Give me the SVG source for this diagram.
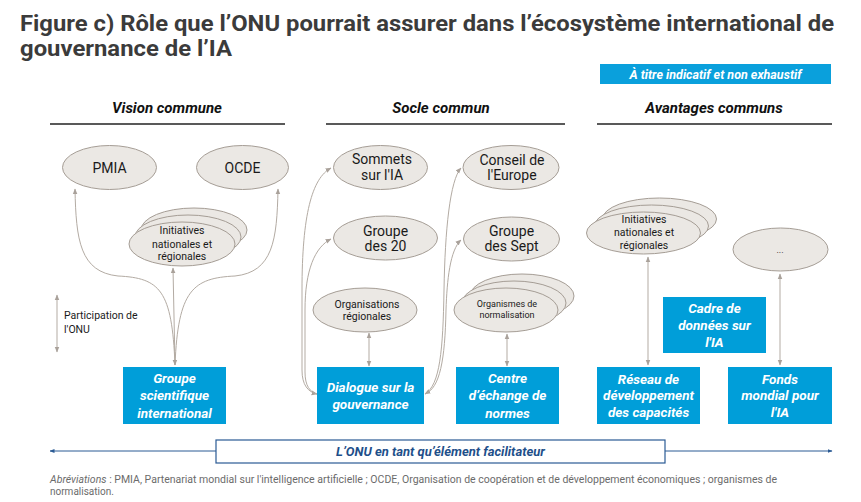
<svg xmlns="http://www.w3.org/2000/svg" width="861" height="502" viewBox="0 0 861 502">
<defs>
<marker id="ah" viewBox="0 0 10 10" refX="9" refY="5" markerWidth="6" markerHeight="6" orient="auto-start-reverse"><path d="M0,1 L10,5 L0,9z" fill="#a9a19a"/></marker>
<marker id="bh" viewBox="0 0 10 10" refX="9" refY="5" markerWidth="5" markerHeight="5" orient="auto-start-reverse"><path d="M0,1 L10,5 L0,9z" fill="#2a5a94"/></marker>
</defs>
<style>
text{font-family:Roboto,"Liberation Sans",sans-serif}
.title{font-size:22px;font-weight:bold;fill:#3b3b3b}
.hdr{font-size:15px;font-weight:bold;font-style:italic;fill:#111;text-anchor:middle}
.el{fill:#ebe8e4;stroke:#a59d95;stroke-width:1}
.t14{font-size:14px;fill:#1a1a1a;text-anchor:middle}
.t10{font-size:10.5px;fill:#1a1a1a;text-anchor:middle}
.t9{font-size:9px;fill:#1a1a1a;text-anchor:middle}
.box{fill:#009ed9}
.bt{font-size:13.5px;font-weight:bold;font-style:italic;fill:#fff;text-anchor:middle}
.con{fill:none;stroke:#b3aba3;stroke-width:1}
.rule{stroke:#222;stroke-width:1.3}
</style>
<g id="title">
<text class="title" x="20" y="31" textLength="814" lengthAdjust="spacingAndGlyphs">Figure c) Rôle que l’ONU pourrait assurer dans l’écosystème international de</text>
<text class="title" x="20" y="56" textLength="212" lengthAdjust="spacingAndGlyphs">gouvernance de l’IA</text>
</g>
<g id="badge">
<rect x="600" y="64" width="231" height="20" fill="#0aa0dc"/>
<text x="715.5" y="78.5" style="font-size:12.5px;font-weight:bold;font-style:italic;fill:#fff;text-anchor:middle">À titre indicatif et non exhaustif</text>
</g>
<g id="headers">
<text class="hdr" x="167" y="113">Vision commune</text>
<line class="rule" x1="50" y1="124" x2="285" y2="124"/>
<text class="hdr" x="441" y="113">Socle commun</text>
<line class="rule" x1="326" y1="124" x2="565" y2="124"/>
<text class="hdr" x="714" y="113">Avantages communs</text>
<line class="rule" x1="597" y1="124" x2="832" y2="124"/>
</g>
<g id="connectors">
<path class="con" d="M75,189 C76,240 80,272 118,276 C160,278 172,290 175,365" marker-start="url(#ah)"/>
<path class="con" d="M278,189 C277,240 273,272 235,276 C193,278 178,290 175,365" marker-start="url(#ah)"/>
<path class="con" d="M173,268 L175,365" marker-start="url(#ah)" marker-end="url(#ah)"/>
<path class="con" d="M57,295 L57,352" marker-start="url(#ah)" marker-end="url(#ah)"/>
<path class="con" d="M331,168 C312,178 302,215 302,290 L302,370 C302,385 308,392 317,394" marker-start="url(#ah)" marker-end="url(#ah)"/>
<path class="con" d="M331,239 C315,247 305,270 305,310 L305,372 C305,386 310,392 317,394" marker-start="url(#ah)"/>
<path class="con" d="M369,333 L369,366" marker-start="url(#ah)" marker-end="url(#ah)"/>
<path class="con" d="M461,168 C450,180 445,230 444,290 C443,350 440,385 425,394" marker-start="url(#ah)" marker-end="url(#ah)"/>
<path class="con" d="M461,240 C450,250 447,280 446,310 C445,360 440,388 425,394" marker-start="url(#ah)"/>
<path class="con" d="M507,334 L507,366" marker-start="url(#ah)" marker-end="url(#ah)"/>
<path class="con" d="M648,257 L648,365" marker-start="url(#ah)" marker-end="url(#ah)"/>
<path class="con" d="M780,274 L780,365" marker-start="url(#ah)" marker-end="url(#ah)"/>
</g>
<g id="legend">
<text class="t10" x="64" y="319" style="text-anchor:start">Participation de</text>
<text class="t10" x="64" y="333" style="text-anchor:start">l'ONU</text>
</g>
<g id="pmia">
<ellipse class="el" cx="109.5" cy="167.5" rx="47" ry="22"/>
<text class="t14" x="109.5" y="172.5">PMIA</text>
</g>
<g id="ocde">
<ellipse class="el" cx="242.5" cy="167.5" rx="46" ry="22"/>
<text class="t14" x="242.5" y="172.5">OCDE</text>
</g>
<g id="initiatives-1">
<ellipse class="el" cx="194" cy="230" rx="53" ry="22"/>
<ellipse class="el" cx="188" cy="237" rx="53" ry="22"/>
<ellipse class="el" cx="182" cy="244" rx="53" ry="22"/>
<text class="t10" x="182" y="234">Initiatives</text>
<text class="t10" x="182" y="247.5">nationales et</text>
<text class="t10" x="182" y="260">régionales</text>
</g>
<g id="groupe-scientifique">
<rect class="box" x="123" y="367" width="103" height="57"/>
<text class="bt" x="174.5" y="383">Groupe</text>
<text class="bt" x="174.5" y="400">scientifique</text>
<text class="bt" x="174.5" y="418">international</text>
</g>
<g id="sommets">
<ellipse class="el" cx="380.5" cy="167.5" rx="47" ry="22"/>
<text class="t14" x="382" y="164">Sommets</text>
<text class="t14" x="382" y="180">sur l'IA</text>
</g>
<g id="g20">
<ellipse class="el" cx="385.5" cy="238" rx="52" ry="22"/>
<text class="t14" x="385.5" y="236">Groupe</text>
<text class="t14" x="385.5" y="251">des 20</text>
</g>
<g id="org-regionales">
<ellipse class="el" cx="365" cy="310" rx="52" ry="22"/>
<text class="t10" x="367" y="308">Organisations</text>
<text class="t10" x="367" y="320">régionales</text>
</g>
<g id="dialogue">
<rect class="box" x="317" y="367" width="107" height="57"/>
<text class="bt" x="370.5" y="392">Dialogue sur la</text>
<text class="bt" x="370.5" y="409">gouvernance</text>
</g>
<g id="conseil">
<ellipse class="el" cx="511" cy="167.5" rx="48" ry="22"/>
<text class="t14" x="512" y="165">Conseil de</text>
<text class="t14" x="512" y="180">l'Europe</text>
</g>
<g id="g7">
<ellipse class="el" cx="511.5" cy="239" rx="48" ry="22"/>
<text class="t14" x="511.5" y="236">Groupe</text>
<text class="t14" x="511.5" y="251">des Sept</text>
</g>
<g id="normalisation">
<ellipse class="el" cx="522" cy="296" rx="52" ry="22"/>
<ellipse class="el" cx="514" cy="303" rx="52" ry="22"/>
<ellipse class="el" cx="506" cy="310" rx="52" ry="22"/>
<text class="t9" x="507" y="307">Organismes de</text>
<text class="t9" x="507" y="318">normalisation</text>
</g>
<g id="centre">
<rect class="box" x="456" y="367" width="103" height="57"/>
<text class="bt" x="507.5" y="383">Centre</text>
<text class="bt" x="507.5" y="400">d’échange de</text>
<text class="bt" x="507.5" y="418">normes</text>
</g>
<g id="initiatives-2">
<ellipse class="el" cx="659.5" cy="219" rx="57" ry="21"/>
<ellipse class="el" cx="651.5" cy="226" rx="57" ry="21"/>
<ellipse class="el" cx="643.5" cy="233" rx="57" ry="21"/>
<text class="t10" x="644" y="223">Initiatives</text>
<text class="t10" x="644" y="236">nationales et</text>
<text class="t10" x="644" y="249">régionales</text>
</g>
<g id="etc">
<ellipse class="el" cx="780.5" cy="249.5" rx="47.5" ry="21.5"/>
<text class="t9" x="780" y="253">...</text>
</g>
<g id="cadre">
<rect class="box" x="663" y="297" width="103" height="56"/>
<text class="bt" x="714.5" y="313">Cadre de</text>
<text class="bt" x="714.5" y="330">données sur</text>
<text class="bt" x="714.5" y="347">l'IA</text>
</g>
<g id="reseau">
<rect class="box" x="597" y="367" width="103" height="57"/>
<text class="bt" x="648.5" y="384">Réseau de</text>
<text class="bt" x="648.5" y="400">développement</text>
<text class="bt" x="648.5" y="417">des capacités</text>
</g>
<g id="fonds">
<rect class="box" x="728" y="367" width="104" height="57"/>
<text class="bt" x="780" y="384">Fonds</text>
<text class="bt" x="780" y="400">mondial pour</text>
<text class="bt" x="780" y="417">l'IA</text>
</g>
<g id="facilitateur">
<line x1="50" y1="451" x2="832" y2="451" stroke="#2a5a94" stroke-width="1" marker-start="url(#bh)" marker-end="url(#bh)"/>
<rect x="216" y="440" width="449" height="23" fill="#fff" stroke="#2a5a94" stroke-width="1.2"/>
<text x="440.5" y="456" style="font-size:13px;font-weight:bold;font-style:italic;fill:#1e4f8a;text-anchor:middle">L’ONU en tant qu’élément facilitateur</text>
</g>
<g id="abreviations">
<text x="50" y="483" style="font-size:10px;fill:#6b6b6b" textLength="727" lengthAdjust="spacingAndGlyphs"><tspan font-style="italic">Abréviations</tspan> : PMIA, Partenariat mondial sur l'intelligence artificielle ; OCDE, Organisation de coopération et de développement économiques ; organismes de</text>
<text x="50" y="494.5" style="font-size:10px;fill:#6b6b6b">normalisation.</text>
</g>
</svg>
